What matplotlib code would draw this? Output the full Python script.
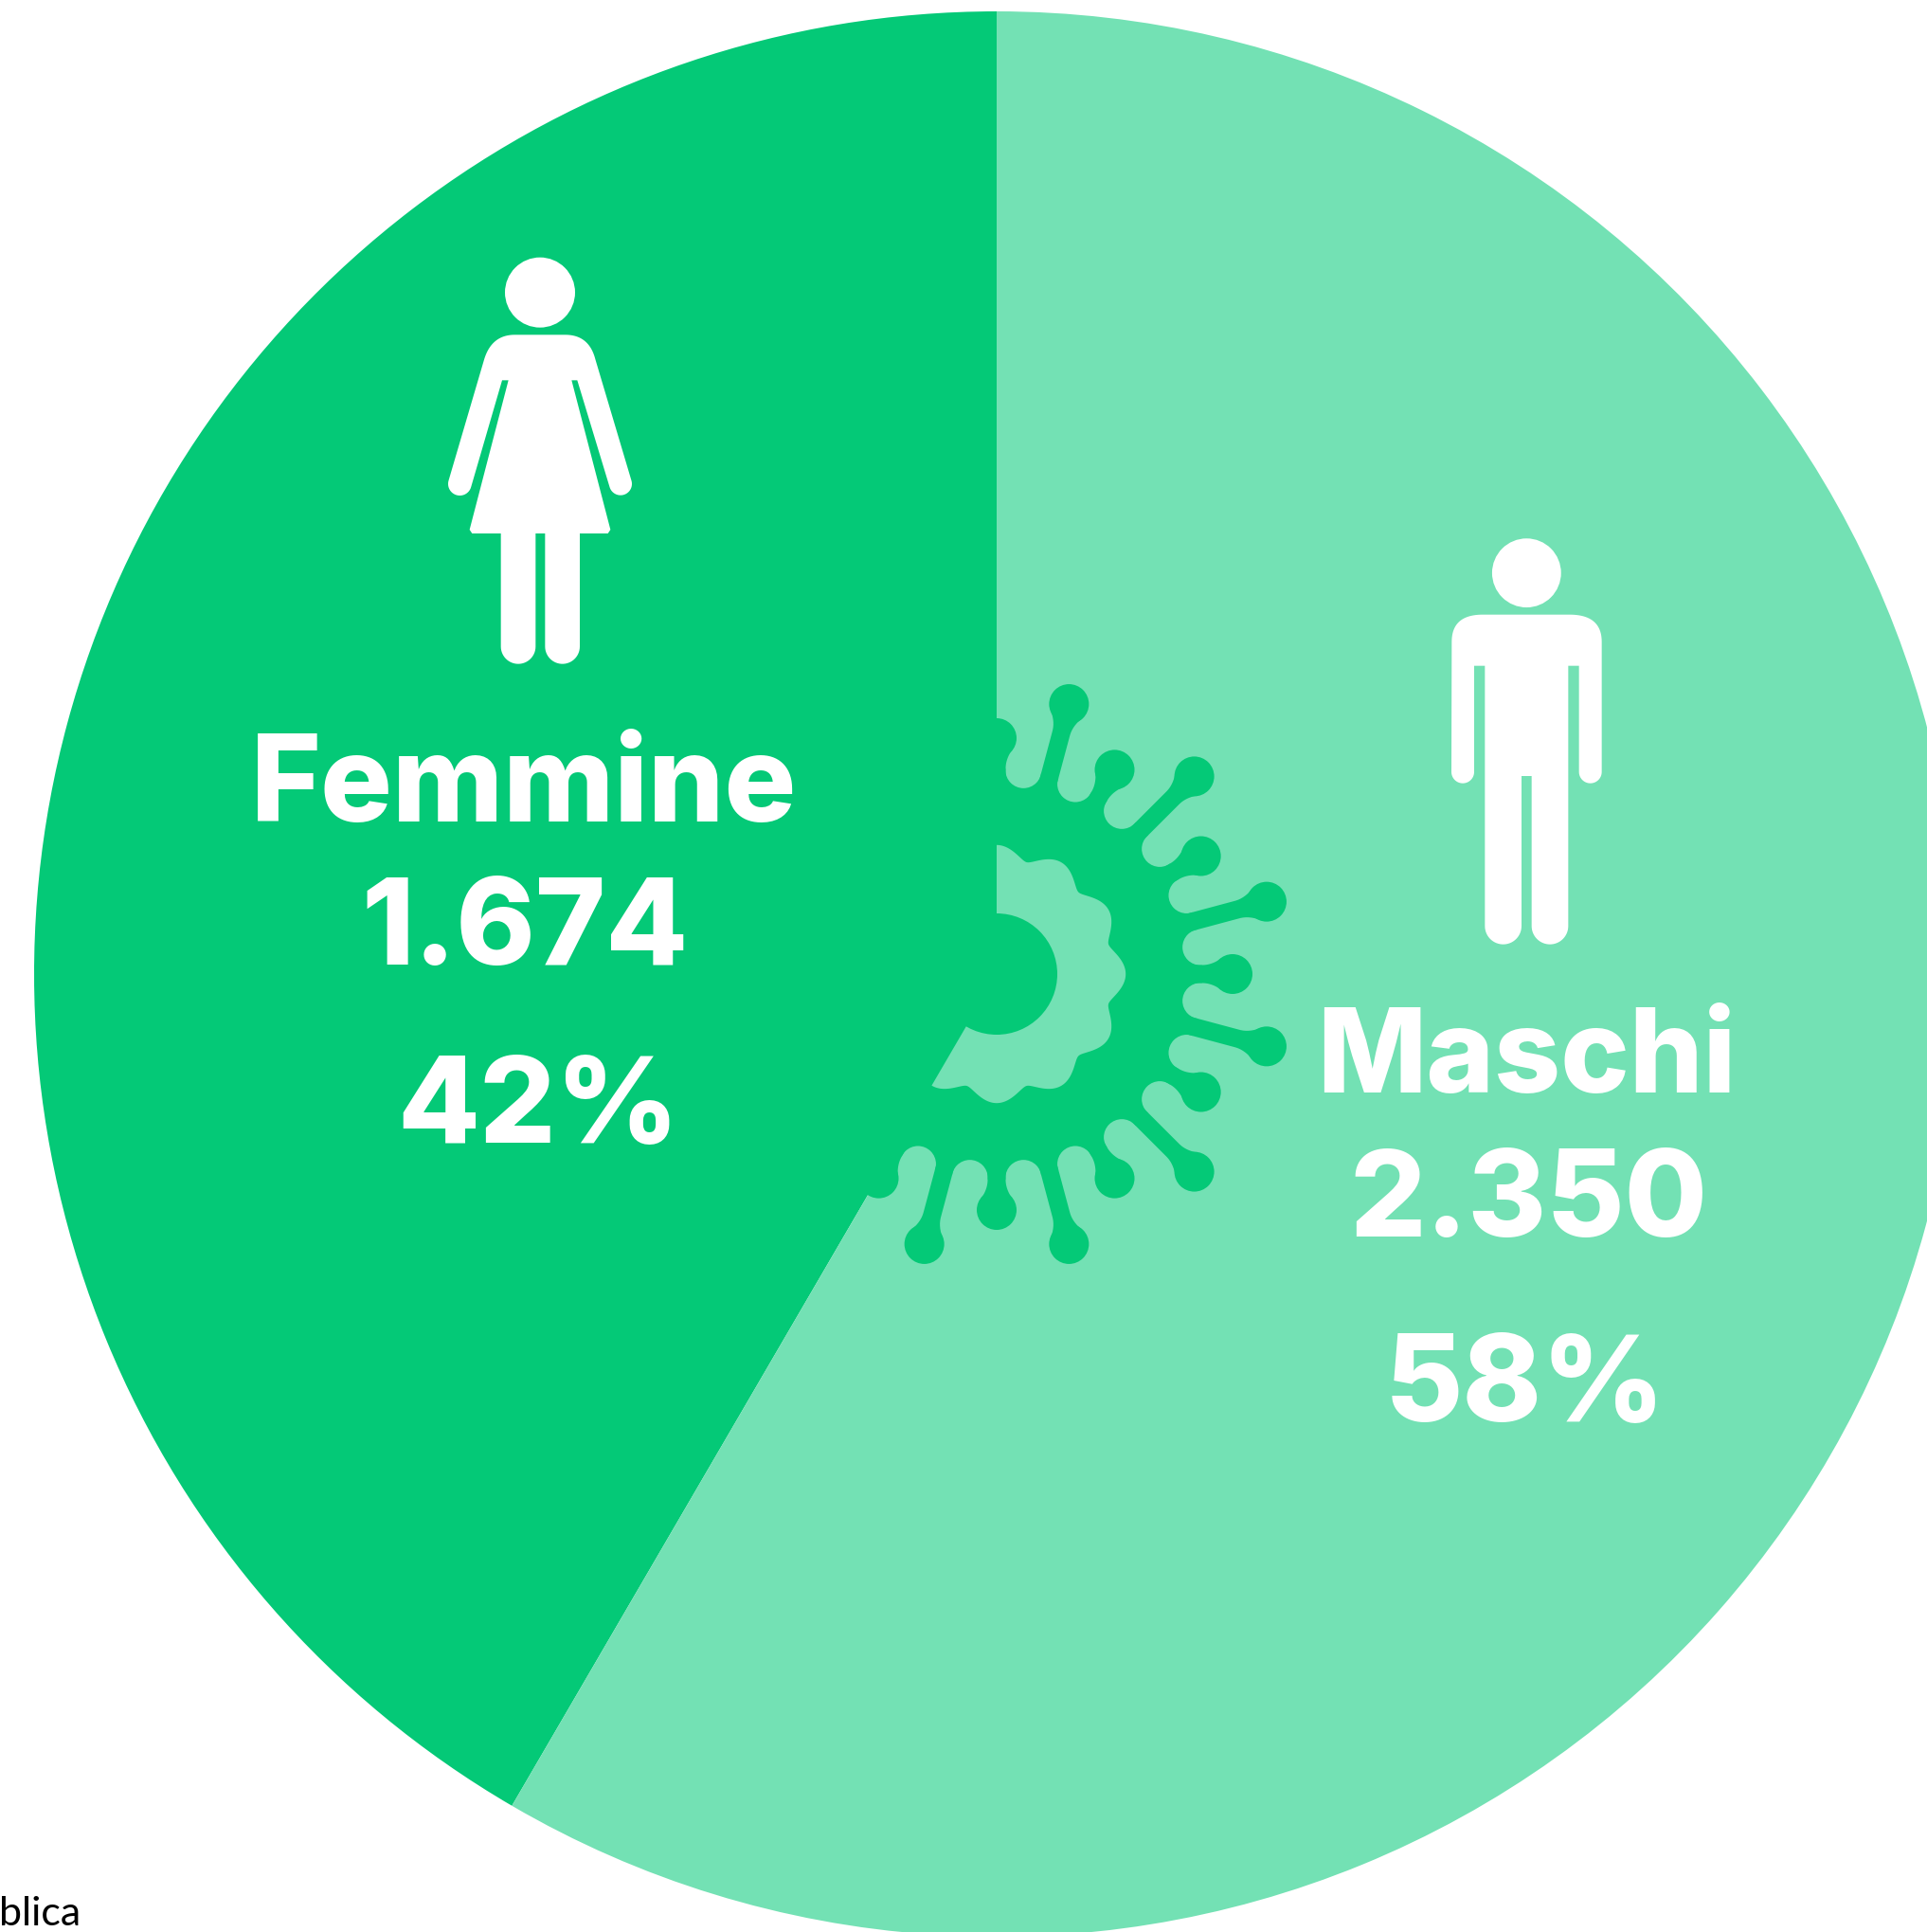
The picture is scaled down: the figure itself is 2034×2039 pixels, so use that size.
import matplotlib
matplotlib.use("Agg")
import matplotlib.pyplot as plt
from matplotlib.patches import Circle, Polygon
import numpy as np

# Dati
categorie = ["Femmine", "Maschi"]
valori = [1674, 2350]
etichette_valori = ["1.674", "2.350"]
percentuali = ["42%", "58%"]
colori = ["#04C977", "#73E1B4"]

W, H = 2034, 2040
SCURO, CHIARO = colori

fig = plt.figure(figsize=(W / 100, H / 100), dpi=100, facecolor="white")
ax = fig.add_axes([0, 0, 1, 1])

cx, cy = 1052, H - 1029


def Y(y):
    return H - y


wedges, _ = ax.pie(valori, colors=colori, startangle=90, counterclock=True,
                   center=(cx, cy), radius=1016, wedgeprops={"linewidth": 0})
ax.set_xlim(0, W)
ax.set_ylim(0, H)
ax.set_aspect("equal")
ax.axis("off")
maschi = wedges[1]


def polare(r, ang):
    # angolo in gradi, in senso orario da ore 12
    a = np.radians(ang)
    return cx + r * np.sin(a), cy + r * np.cos(a)


# Virus al centro
ax.add_patch(Circle((cx, cy), 217, fc=SCURO, lw=0, zorder=3))

for ang in np.arange(7.5, 360, 15):
    p = Circle(polare(217, ang), 19, fc=CHIARO, lw=0, zorder=4)
    ax.add_patch(p)
    p.set_clip_path(maschi)

t = np.linspace(0, 360, 1441)
c = np.cos(np.radians(6 * t))
r_bordo = 121 + 15 * np.sqrt(c ** 2 + 0.02) ** 1.3
xb, yb = polare(r_bordo, t)
anello = Polygon(np.column_stack([xb, yb]), closed=True, fc=CHIARO, lw=0, zorder=5)
ax.add_patch(anello)
anello.set_clip_path(maschi)
ax.add_patch(Circle((cx, cy), 64, fc=SCURO, lw=0, zorder=6))

for i, ang in enumerate(np.arange(0, 360, 15)):
    r_testa = 249 if i % 2 == 0 else 295
    ax.add_patch(Circle(polare(r_testa, ang), 21, fc=SCURO, lw=0, zorder=7))
    ux, uy = np.sin(np.radians(ang)), np.cos(np.radians(ang))
    vx, vy = uy, -ux
    rr = np.linspace(205, r_testa - 12, 30)
    ww = 9.5 + 7 * ((rr - (r_testa - 32)).clip(0) / 20) ** 2
    punti = [(cx + ux * r + vx * w, cy + uy * r + vy * w) for r, w in zip(rr, ww)]
    punti += [(cx + ux * r - vx * w, cy + uy * r - vy * w) for r, w in zip(rr[::-1], ww[::-1])]
    ax.add_patch(Polygon(punti, closed=True, fc=SCURO, lw=0, zorder=7))


def arco(x0, y0, r, a0, a1):
    a = np.radians(np.linspace(a0, a1, 30))
    return list(zip(x0 + r * np.cos(a), y0 + r * np.sin(a)))


def curva(p0, p1, p2):
    s = np.linspace(0, 1, 25)
    p0, p1, p2 = map(np.array, (p0, p1, p2))
    q = [(1 - u) ** 2 * p0 + 2 * u * (1 - u) * p1 + u ** 2 * p2 for u in s]
    return [tuple(v) for v in q]


def icona(punti, ox, oy):
    # coordinate dell'icona in pixel *3 rispetto a (ox, oy)
    xy = [(ox + x / 3, Y(oy + y / 3)) for x, y in punti]
    ax.add_patch(Polygon(xy, closed=True, fc="white", lw=0, zorder=8))


# Donna
ox, oy = 440, 250
ax.add_patch(Circle((ox + 390 / 3, Y(oy + 179 / 3)), 37, fc="white", lw=0, zorder=8))
donna = []
donna += curva((212, 395), (235, 313), (310, 313))
donna += curva((470, 313), (545, 313), (565, 390))
donna += arco(645, 785, 36, -17, 164)
donna += [(508, 457), (490, 457), (613, 930), (605, 942), (516, 942), (516, 1300)]
donna += arco(461, 1300, 55, 0, 180)
donna += [(406, 942), (376, 942), (376, 1300)]
donna += arco(321, 1300, 55, 0, 180)
donna += [(266, 942), (175, 942), (167, 930), (290, 457), (270, 457)]
donna += arco(136, 785, 37, 15, 197)
icona(donna, ox, oy)

# Uomo
ox, oy = 1500, 550
ax.add_patch(Circle((ox + 334 / 3, Y(oy + 167 / 3)), 36.4, fc="white", lw=0, zorder=8))
uomo = []
uomo += curva((97, 385), (97, 299), (195, 299))
uomo += curva((470, 299), (572, 299), (572, 385))
uomo += [(572, 797)]
uomo += arco(536, 797, 36, 0, 180)
uomo += [(500, 461), (466, 461), (466, 1285)]
uomo += arco(408, 1285, 58, 0, 180)
uomo += [(350, 810), (318, 810), (318, 1285)]
uomo += arco(260, 1285, 58, 0, 180)
uomo += [(202, 461), (168, 461), (168, 797)]
uomo += arco(132, 797, 36, 0, 180)
icona(uomo, ox, oy)

# Testi
FONT = "Inter"
posizioni = [
    [(553, 867), (554, 1018), (568, 1206)],
    [(1611, 1153), (1613, 1305), (1610, 1500)],
]
corpi = [[91, 91, 91], [88, 91, 91]]
for i in range(2):
    testi = [categorie[i], etichette_valori[i], percentuali[i]]
    for s, (x, y), pt in zip(testi, posizioni[i], corpi[i]):
        ax.text(x, Y(y), s, color="white", fontsize=pt, fontweight=800, family=FONT,
                ha="center", va="baseline", zorder=9)

ax.text(-1, Y(2032), "blica", color="black", fontsize=31, family="Lato",
        ha="left", va="baseline", zorder=9)

fig.savefig("out.png", dpi=100, facecolor="white")
